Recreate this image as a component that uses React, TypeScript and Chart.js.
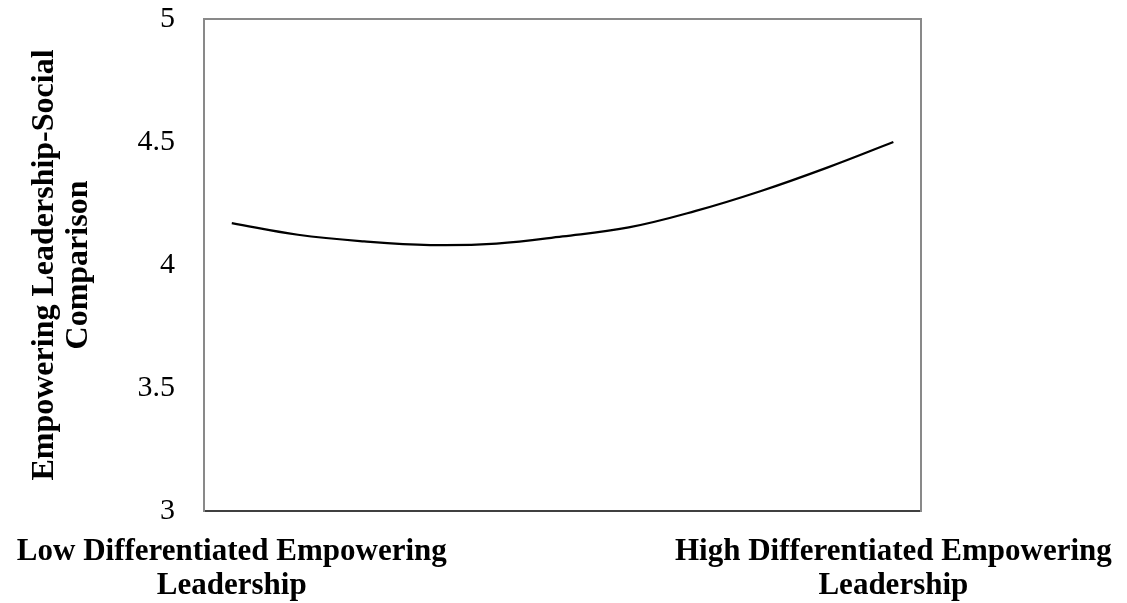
import React, { useEffect, useRef } from "react";
import { Chart, registerables } from "chart.js";

Chart.register(...registerables);

// ---- data ----
const pointPositions = [0, 1, 2, 3, 4, 5, 6, 7, 8, 9, 10];
const comparisonValues = [4.17, 4.123, 4.096, 4.081, 4.087, 4.116, 4.153, 4.219, 4.301, 4.396, 4.5];
const categoryPositions = [0, 10];
const categoryLabels = [
  ["Low Differentiated Empowering", "Leadership"],
  ["High Differentiated Empowering", "Leadership"],
];
const yTickValues = [3, 3.5, 4, 4.5, 5];
const yTickLabels = ["3", "3.5", "4", "4.5", "5"];
const yAxisTitle = ["Empowering Leadership-Social", "Comparison"];

const SERIF = '"Liberation Serif", "Times New Roman", Times, serif';
const W = 1127;
const H = 603;

const noPadding = (s: any) => {
  s.paddingTop = 0;
  s.paddingBottom = 0;
  s.paddingLeft = 0;
  s.paddingRight = 0;
};

export default function App() {
  const ref = useRef<HTMLCanvasElement>(null);

  useEffect(() => {
    const canvas = ref.current;
    if (!canvas) return;
    const chart = new Chart(canvas, {
      type: "line",
      data: {
        datasets: [
          {
            data: pointPositions.map((x, i) => ({ x, y: comparisonValues[i] })),
            borderColor: "#000000",
            borderWidth: 2.25,
            pointRadius: 0,
            tension: 0.4,
            fill: false,
          },
        ],
      },
      options: {
        responsive: false,
        animation: false,
        devicePixelRatio: 1,
        layout: { padding: { top: 19, right: 206.5, bottom: 0, left: 0 } },
        plugins: {
          legend: { display: false },
          tooltip: { enabled: false },
          title: { display: false },
        },
        scales: {
          x: {
            type: "linear",
            position: "bottom",
            min: -0.42,
            max: 10.41,
            grid: { display: false, drawTicks: false },
            border: { display: true, color: "#404040", width: 2 },
            afterBuildTicks: (s: any) => {
              s.ticks = categoryPositions.map((v) => ({ value: v }));
            },
            afterFit: (s: any) => {
              s.height = 92;
              noPadding(s);
            },
            ticks: {
              maxRotation: 0,
              minRotation: 0,
              autoSkip: false,
              padding: 24,
              color: "#000000",
              font: { family: SERIF, size: 31, weight: "bold", lineHeight: 1.1 },
              callback: (v: any) => {
                const i = categoryPositions.indexOf(Number(v));
                return i >= 0 ? categoryLabels[i] : "";
              },
            },
          },
          y: {
            type: "linear",
            position: "left",
            min: 3,
            max: 5,
            grid: { display: false, drawTicks: false },
            border: { display: true, color: "#898989", width: 2 },
            afterBuildTicks: (s: any) => {
              s.ticks = yTickValues.map((v) => ({ value: v }));
            },
            afterFit: (s: any) => {
              s.width = 204;
              noPadding(s);
            },
            ticks: {
              padding: 29,
              color: "#000000",
              font: { family: SERIF, size: 30 },
              callback: (v: any) => {
                const i = yTickValues.indexOf(Number(v));
                return i >= 0 ? yTickLabels[i] : "";
              },
            },
            title: {
              display: true,
              text: yAxisTitle,
              color: "#000000",
              font: { family: SERIF, size: 32, weight: "bold", lineHeight: 1.06 },
              padding: { top: 28, bottom: 0 },
            },
          },
          xTop: {
            type: "linear",
            position: "top",
            display: true,
            grid: { display: false, drawTicks: false },
            ticks: { display: false },
            border: { display: true, color: "#898989", width: 2 },
            afterFit: (s: any) => {
              s.height = 0;
              noPadding(s);
            },
          },
          yRight: {
            type: "linear",
            position: "right",
            display: true,
            grid: { display: false, drawTicks: false },
            ticks: { display: false },
            border: { display: true, color: "#898989", width: 2 },
            afterFit: (s: any) => {
              s.width = 0;
              noPadding(s);
            },
          },
        },
      },
    });
    return () => chart.destroy();
  }, []);

  return (
    <div style={{ position: "absolute", left: 0, top: 0, width: W, height: H, background: "#ffffff" }}>
      <canvas ref={ref} width={W} height={H} style={{ display: "block", width: W, height: H }} />
    </div>
  );
}
